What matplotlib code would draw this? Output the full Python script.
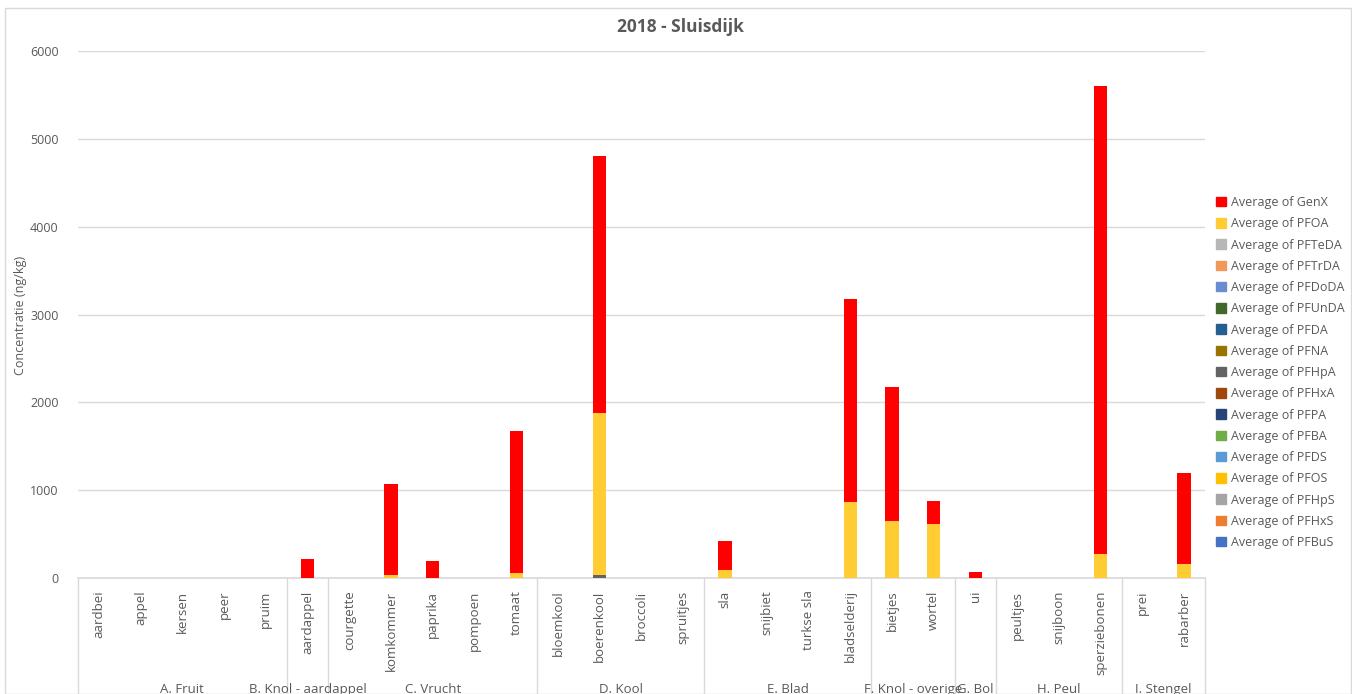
import matplotlib
matplotlib.use("Agg")
import matplotlib.pyplot as plt
from matplotlib.patches import Rectangle
from matplotlib.lines import Line2D
import numpy as np

plt.rcParams['font.family'] = ['Open Sans', 'DejaVu Sans']

# Product groups and products (in axis order)
groups = ["A. Fruit", "B. Knol - aardappel", "C. Vrucht", "D. Kool", "E. Blad",
          "F. Knol - overige", "G. Bol", "H. Peul", "I. Stengel"]
group_sizes = [5, 1, 5, 4, 4, 2, 1, 3, 2]
products = ["aardbei", "appel", "kersen", "peer", "pruim",
            "aardappel",
            "courgette", "komkommer", "paprika", "pompoen", "tomaat",
            "bloemkool", "boerenkool", "broccoli", "spruitjes",
            "sla", "snijbiet", "turkse sla", "bladselderij",
            "bietjes", "wortel",
            "ui",
            "peultjes", "snijboon", "sperziebonen",
            "prei", "rabarber"]

# Average concentrations (ng/kg) per compound
genx = [0, 0, 0, 0, 0, 218, 0, 1045, 195, 0, 1618, 0, 2925, 0, 0,
        330, 0, 0, 2310, 1527, 262, 70, 0, 0, 5328, 0, 1036]
pfoa = [0, 0, 0, 0, 0, 0, 0, 30, 0, 0, 60, 0, 1840, 0, 0,
        88, 0, 0, 868, 650, 616, 0, 0, 0, 272, 0, 162]
pfhpa = [0, 0, 0, 0, 0, 0, 0, 0, 0, 0, 0, 0, 35, 0, 0,
         0, 0, 0, 0, 0, 0, 0, 0, 0, 0, 0, 0]
zeros = [0] * len(products)
pfteda = zeros
pftrda = zeros
pfdoda = zeros
pfunda = zeros
pfda = zeros
pfna = zeros
pfhxa = zeros
pfpa = zeros
pfba = zeros
pfds = zeros
pfos = zeros
pfhps = zeros
pfhxs = zeros
pfbus = zeros

# Stack order from bottom to top
series = [
    ("Average of PFBuS", pfbus, "#4472C4"),
    ("Average of PFHxS", pfhxs, "#ED7D31"),
    ("Average of PFHpS", pfhps, "#A5A5A5"),
    ("Average of PFOS", pfos, "#FFC000"),
    ("Average of PFDS", pfds, "#5B9BD5"),
    ("Average of PFBA", pfba, "#70AD47"),
    ("Average of PFPA", pfpa, "#264478"),
    ("Average of PFHxA", pfhxa, "#9E480E"),
    ("Average of PFHpA", pfhpa, "#636363"),
    ("Average of PFNA", pfna, "#997300"),
    ("Average of PFDA", pfda, "#255E91"),
    ("Average of PFUnDA", pfunda, "#43682B"),
    ("Average of PFDoDA", pfdoda, "#698ED0"),
    ("Average of PFTrDA", pftrda, "#F1975A"),
    ("Average of PFTeDA", pfteda, "#B7B7B7"),
    ("Average of PFOA", pfoa, "#FFCD33"),
    ("Average of GenX", genx, "#FF0000"),
]

W, H = 1352, 694
fig = plt.figure(figsize=(W / 100, H / 100), dpi=100)
fig.patches.append(Rectangle((5 / W, 0), (W - 6) / W, 1 - 8 / H, transform=fig.transFigure,
                             fill=False, edgecolor="#D9D9D9", linewidth=1))

ax = fig.add_axes([78 / W, 1 - 578 / H, (1205 - 78) / W, (578 - 51) / H])
x = np.arange(len(products))
bottom = np.zeros(len(products))
handles = []
for name, vals, col in series:
    v = np.array(vals, dtype=float)
    ax.bar(x, v, bottom=bottom, width=0.32, color=col, zorder=3, linewidth=0)
    bottom += v
    handles.append(Rectangle((0, 0), 1, 1, color=col, label=name))

ax.set_xlim(-0.5, len(products) - 0.5)
ax.set_ylim(0, 6000)
ax.set_yticks(np.arange(0, 6001, 1000))
ax.yaxis.grid(True, color="#D9D9D9", linewidth=1, zorder=0)
for s in ["top", "right", "left"]:
    ax.spines[s].set_visible(False)
ax.spines["bottom"].set_color("#D9D9D9")
ax.spines["bottom"].set_linewidth(1.2)
ax.tick_params(axis="y", length=0, labelsize=9, colors="#595959", pad=14)
ax.set_xticks(x)
ax.set_xticklabels(products, rotation=90, fontsize=9.5, color="#595959", va="top")
ax.tick_params(axis="x", length=0, pad=9)
ax.set_ylabel("Concentratie (ng/kg)", fontsize=9, color="#595959")
ax.yaxis.set_label_coords((27 - 78) / (1205 - 78), (578 - 315) / (578 - 51))

# Group separators and group labels below the product labels
bounds = np.concatenate([[0], np.cumsum(group_sizes)]) - 0.5
trans = ax.get_xaxis_transform()
for b in bounds:
    ax.add_line(Line2D([b, b], [0, -0.25], transform=trans, color="#D9D9D9",
                       linewidth=1, clip_on=False))
for g, lo, hi in zip(groups, bounds[:-1], bounds[1:]):
    ax.text((lo + hi) / 2, -0.2125, g, transform=trans, ha="center", va="center",
            fontsize=9.5, color="#595959", clip_on=False)

fig.text(680 / W, 1 - 27 / H, "2018 - Sluisdijk", ha="center", va="center",
         fontsize=12.5, fontweight="bold", color="#595959")

leg = fig.legend(handles=handles[::-1], loc="upper left", bbox_to_anchor=(1211 / W, 1 - 191 / H),
                 frameon=False, fontsize=9, handlelength=0.8, handleheight=0.8,
                 handletextpad=0.4, labelspacing=0.66, borderaxespad=0)
for t in leg.get_texts():
    t.set_color("#595959")

fig.savefig("out.png", dpi=100)
